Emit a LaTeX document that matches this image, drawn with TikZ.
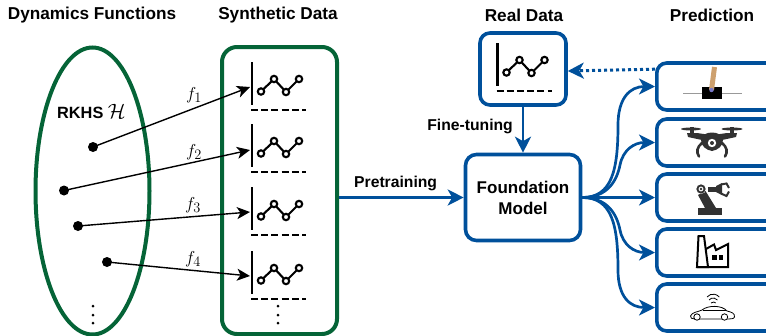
\documentclass[tikz,border=0pt]{standalone}
\usepackage{fontspec}
\setmainfont{Liberation Sans}
\usetikzlibrary{arrows.meta}
\definecolor{gr}{RGB}{5,100,55}
\definecolor{bl}{RGB}{0,80,155}
\tikzset{
  x=1pt,y=-1pt,
  title/.style={font=\bfseries\fontsize{17.2}{20}\selectfont,inner sep=0pt},
  lab/.style={font=\bfseries\fontsize{15.7}{19}\selectfont,inner sep=0pt,align=center},
  dotn/.style={circle,fill=black,minimum size=10pt,inner sep=0pt},
  farr/.style={black,line width=1.4pt,-{Stealth[length=13pt,width=12pt,inset=3.5pt]}},
  barr/.style={bl,line width=2.7pt,-{Stealth[length=16pt,width=16pt,inset=4.5pt]}},
  bbox/.style={draw=bl,line width=3.6pt,rounded corners=10pt},
  chartline/.style={black,line width=2.1pt},
  chartdash/.style={black,line width=2.1pt,dash pattern=on 7pt off 3.2pt},
  fl/.style={inner sep=1pt,font=\fontsize{19}{22}\selectfont},
  vd/.style={circle,fill=black,minimum size=3pt,inner sep=0pt}
}
\newcommand{\minichart}[2]{%
  \begin{scope}[shift={(#1,#2)}]
    \draw[chartline] (252,62) -- (252,105);
    \draw[chartline] (261,91.5) -- (274,79) -- (286,92) -- (299,79);
    \foreach \p in {(261,91.5),(274,79),(286,92),(299,79)}
      \draw[chartline,fill=white] \p circle (3.2pt);
    \draw[chartdash] (251,110) -- (306,110);
  \end{scope}}
\begin{document}
\begin{tikzpicture}
\useasboundingbox (0,0) rectangle (766,335);
% titles
\node[title] (t1) at (92,15) {Dynamics Functions};
\node[title] (t2) at (278,15) {Synthetic Data};
\node[title] (t3) at (524,15) {Real Data};
\node[title] (t4) at (712,15) {Prediction};
% ellipse
\draw[gr,line width=4pt] (92.5,191) ellipse [x radius=57,y radius=143.5];
\node[lab,anchor=west,font=\bfseries\fontsize{16.3}{19}\selectfont] (rkhs) at (57,111) {RKHS {\fontsize{22}{22}\selectfont$\mathcal{H}$}};
% synth box
\node[draw=gr,line width=4pt,rounded corners=15pt,minimum width=115pt,minimum height=287pt,inner sep=0pt] (synth) at (279.5,190.5) {};
\minichart{0}{0}
\minichart{0}{62}
\minichart{0}{125}
\minichart{0}{189}
% dots
\node[dotn] (d1) at (93,147) {};
\node[dotn] (d2) at (64,190.5) {};
\node[dotn] (d3) at (78,226) {};
\node[dotn] (d4) at (107,262) {};
\coordinate (c1) at (250,87);
\coordinate (c2) at (250,150);
\coordinate (c3) at (250,212);
\coordinate (c4) at (250,276);
\draw[farr] (d1.center) -- (c1);
\draw[farr] (d2.center) -- (c2);
\draw[farr] (d3.center) -- (c3);
\draw[farr] (d4.center) -- (c4);
\node[fl] (f1) at (194,95) {$f_1$};
\node[fl] (f2) at (194,152) {$f_2$};
\node[fl] (f3) at (193,205) {$f_3$};
\node[fl] (f4) at (193,259) {$f_4$};
\foreach \y [count=\i] in {306,315,323} {
  \node[vd] (va\i) at (93,\y) {};
  \node[vd] (vb\i) at (278,\y) {};
}
% real data
\node[bbox,minimum width=86pt,minimum height=72pt,inner sep=0pt] (real) at (523,69) {};
\minichart{245.5}{-19}
% foundation
\node[bbox,rounded corners=11pt,minimum width=115pt,minimum height=86pt,inner sep=0pt,align=center,font=\bfseries\fontsize{17}{21}\selectfont] (fm) at (523,197.5) {Foundation\\Model};
% predictions (right side runs off the picture)
\foreach \y [count=\i] in {86.5,142.5,197.5,252.5,307.5}
  \node[bbox,minimum width=120pt,minimum height=47pt,inner sep=0pt,anchor=west] (p\i) at (655,\y) {};
% connectors
\draw[barr] (synth.east |- fm.west) -- (fm.west);
\node[lab,anchor=west] (pre) at (354,183) {Pretraining};
\draw[barr] (real.south -| fm.north) -- (fm.north);
\node[lab,anchor=east] (fine) at (513,126) {Fine-tuning};
\draw[barr,line width=3pt,dash pattern=on 3pt off 3pt] ([yshift=-8pt]p1.north west) -- ([yshift=-2pt]real.east);
\draw[barr] (fm.east) .. controls (612,197.5) and (618,170) .. (618,125) .. controls (618,98) and (630,86.5) .. (p1.west);
\draw[barr] (fm.east) .. controls (608,197.5) and (617,180) .. (620,165) .. controls (623,150) and (634,142.5) .. (p2.west);
\draw[barr] (fm.east) -- (p3.west);
\draw[barr] (fm.east) .. controls (608,197.5) and (617,215) .. (620,230) .. controls (623,245) and (634,252.5) .. (p4.west);
\draw[barr] (fm.east) .. controls (612,197.5) and (618,225) .. (618,270) .. controls (618,297) and (630,307.5) .. (p5.west);
% cartpole
\draw[gray!80,line width=0.8pt] (683,93) -- (742,93);
\fill[black] (702,87) rectangle (722,99);
\draw[color={rgb,255:red,205;green,160;blue,110},line width=5pt] (714.5,67) -- (711.5,90);
\fill[color={rgb,255:red,120;green,120;blue,200}] (711.5,90) circle (2.2pt);
% drone
\begin{scope}[color={rgb,255:red,50;green,50;blue,50}]
\fill (691,129) ellipse [x radius=10,y radius=1.5];
\fill (732,129) ellipse [x radius=10.5,y radius=1.5];
\fill (690.3,127) rectangle (693.7,135);
\fill (730.3,127) rectangle (733.7,135);
\fill (687,133) -- (697,133) -- (704,134) -- (720,134) -- (727,133) -- (737,133) -- (736,137) -- (722,140) -- (702,140) -- (688,137) -- cycle;
\fill (701,140) .. controls (701,130) and (723,130) .. (723,140) .. controls (723,146) and (718,150) .. (712,151) .. controls (706,150) and (701,146) .. (701,140) -- cycle;
\fill[white] (712,143) circle (4.2pt);
\fill (712,143) circle (2pt);
\draw[line width=2.6pt,line cap=round] (702,143) .. controls (697,147) and (696,152) .. (699,156.5);
\draw[line width=2.6pt,line cap=round] (722,143) .. controls (727,147) and (728,152) .. (725,156.5);
\end{scope}
% robot
\begin{scope}[color={rgb,255:red,50;green,50;blue,50}]
\fill (697.5,208) rectangle (722,215);
\fill (705,208) -- (716,208) -- (705.5,191) -- (698,195) -- cycle;
\fill[white] (701,189) circle (5pt);
\draw[line width=1.9pt] (701,189) circle (3.6pt);
\fill (701,189) circle (1.4pt);
\fill (708,186.5) rectangle (717,191.5);
\fill (716,186) -- (722,183) -- (722,195) -- (716,192) -- cycle;
\draw[line width=2pt] (721,184.5) -- (726.5,183.5) -- (729,188);
\draw[line width=2pt] (721,193.5) -- (726.5,196) -- (729,191.5);
\end{scope}
% factory
\draw[black,line width=2pt,line join=miter] (697,267) -- (698.5,236) -- (704,236) -- (708,267) -- cycle;
\draw[black,line width=2pt,line join=miter] (706,249) -- (714,244.5) -- (716,250) -- (728,244) -- (728,267) -- (697,267);
\fill[black] (712,255) rectangle (716.5,259.5);
\fill[black] (718.5,255) rectangle (723,259.5);
% car
\begin{scope}[black,line width=0.8pt]
\draw (690.5,316) .. controls (692,312) and (698,312) .. (702,310) .. controls (708,305) and (722,305) .. (727,311) .. controls (731,312) and (735,313) .. (734.5,317) .. controls (734,319) and (730,319) .. (728,319) -- (701,319) -- (695,319) .. controls (692,319) and (690,318) .. (690.5,316) -- cycle;
\draw[fill=white] (697,317) circle (3.2pt);
\draw[fill=white] (724.5,317) circle (3.2pt);
\draw (703,310.5) -- (726,310.5);
\draw (707,297) arc (220:320:8);
\draw (709,300) arc (220:320:5.5);
\draw (711,303) arc (220:320:3);
\end{scope}
\end{tikzpicture}
\end{document}
